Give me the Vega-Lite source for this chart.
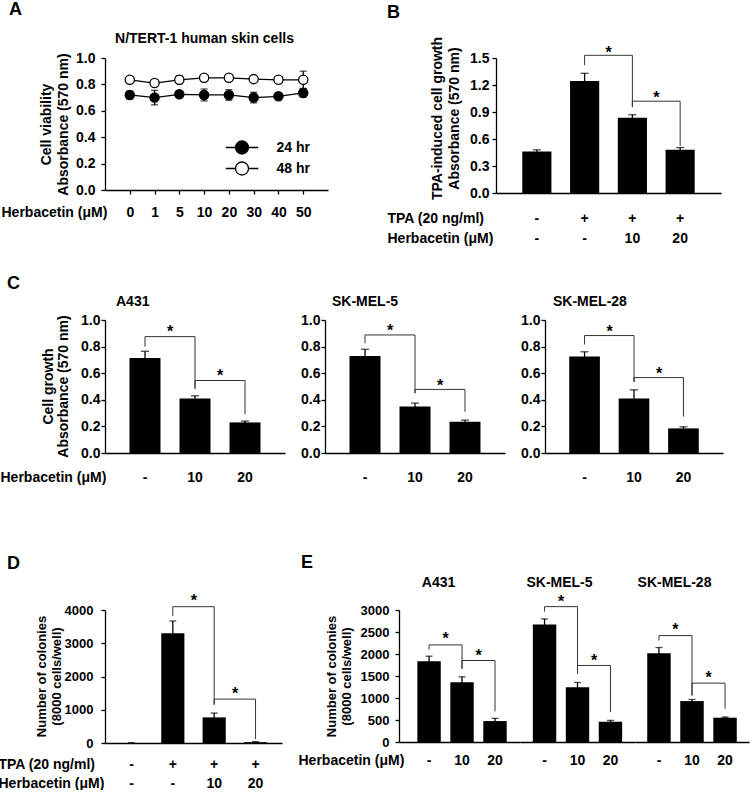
{
  "$schema": "https://vega.github.io/schema/vega-lite/v6.json",
  "padding": {"left": -2, "top": 1, "right": 4, "bottom": 0},
  "config": {
    "font": "Liberation Sans",
    "view": {"stroke": null},
    "axis": {"grid": false, "domainColor": "#000", "domainWidth": 1.3, "tickColor": "#000", "tickWidth": 1.3, "tickSize": 4,
      "labelColor": "#000", "labelFontWeight": "bold", "labelFontSize": 14, "labelAngle": 0,
      "titleColor": "#000", "titleFontWeight": "bold", "titleFontSize": 14},
    "title": {"fontWeight": "bold", "fontSize": 14, "color": "#000"}
  },
  "datasets": {
    "viability": [
      {"conc": "0", "series": "24 hr", "mean": 0.72, "err": 0.03},
      {"conc": "1", "series": "24 hr", "mean": 0.70, "err": 0.055},
      {"conc": "5", "series": "24 hr", "mean": 0.725, "err": 0.01},
      {"conc": "10", "series": "24 hr", "mean": 0.72, "err": 0.045},
      {"conc": "20", "series": "24 hr", "mean": 0.72, "err": 0.04},
      {"conc": "30", "series": "24 hr", "mean": 0.70, "err": 0.04},
      {"conc": "40", "series": "24 hr", "mean": 0.71, "err": 0.015},
      {"conc": "50", "series": "24 hr", "mean": 0.735, "err": 0.03},
      {"conc": "0", "series": "48 hr", "mean": 0.835, "err": 0.02},
      {"conc": "1", "series": "48 hr", "mean": 0.81, "err": 0.02},
      {"conc": "5", "series": "48 hr", "mean": 0.835, "err": 0.03},
      {"conc": "10", "series": "48 hr", "mean": 0.85, "err": 0.02},
      {"conc": "20", "series": "48 hr", "mean": 0.85, "err": 0.01},
      {"conc": "30", "series": "48 hr", "mean": 0.84, "err": 0.015},
      {"conc": "40", "series": "48 hr", "mean": 0.835, "err": 0.01},
      {"conc": "50", "series": "48 hr", "mean": 0.835, "err": 0.065}
    ],
    "tpaGrowth": [
      {"cond": "-|-", "mean": 0.46, "err": 0.02},
      {"cond": "+|-", "mean": 1.245, "err": 0.085},
      {"cond": "+|10", "mean": 0.835, "err": 0.035},
      {"cond": "+|20", "mean": 0.48, "err": 0.025}
    ],
    "tpaGrowthSig": [
      {"from": "+|-", "to": "+|10", "top": 1.53, "yl": 1.42, "yr": 0.955, "sy": 1.59},
      {"from": "+|10", "to": "+|20", "top": 1.02, "yl": 0.955, "yr": 0.525, "sy": 1.09}
    ],
    "growth": [
      {"cell": "A431", "dose": "-", "mean": 0.715, "err": 0.05},
      {"cell": "A431", "dose": "10", "mean": 0.41, "err": 0.02},
      {"cell": "A431", "dose": "20", "mean": 0.23, "err": 0.01},
      {"cell": "SK-MEL-5", "dose": "-", "mean": 0.73, "err": 0.05},
      {"cell": "SK-MEL-5", "dose": "10", "mean": 0.35, "err": 0.025},
      {"cell": "SK-MEL-5", "dose": "20", "mean": 0.235, "err": 0.012},
      {"cell": "SK-MEL-28", "dose": "-", "mean": 0.726, "err": 0.035},
      {"cell": "SK-MEL-28", "dose": "10", "mean": 0.41, "err": 0.065},
      {"cell": "SK-MEL-28", "dose": "20", "mean": 0.185, "err": 0.012}
    ],
    "growthSig": [
      {"cell": "A431", "from": "-", "to": "10", "top": 0.875, "yl": 0.80, "yr": 0.49, "sy": 0.93},
      {"cell": "A431", "from": "10", "to": "20", "top": 0.545, "yl": 0.48, "yr": 0.29, "sy": 0.60},
      {"cell": "SK-MEL-5", "from": "-", "to": "10", "top": 0.8875, "yl": 0.825, "yr": 0.45, "sy": 0.94},
      {"cell": "SK-MEL-5", "from": "10", "to": "20", "top": 0.478, "yl": 0.45, "yr": 0.31, "sy": 0.53},
      {"cell": "SK-MEL-28", "from": "-", "to": "10", "top": 0.883, "yl": 0.816, "yr": 0.535, "sy": 0.935},
      {"cell": "SK-MEL-28", "from": "10", "to": "20", "top": 0.567, "yl": 0.535, "yr": 0.274, "sy": 0.62}
    ],
    "colTPA": [
      {"cond": "-|-", "mean": 0, "err": 0},
      {"cond": "+|-", "mean": 3300, "err": 370},
      {"cond": "+|10", "mean": 770, "err": 130},
      {"cond": "+|20", "mean": 25, "err": 15}
    ],
    "colTPASig": [
      {"from": "+|-", "to": "+|10", "top": 4100, "yl": 3820, "yr": 1150, "sy": 4350},
      {"from": "+|10", "to": "+|20", "top": 1320, "yl": 1150, "yr": 120, "sy": 1560}
    ],
    "colonies": [
      {"cell": "A431", "dose": "-", "mean": 1837, "err": 113},
      {"cell": "A431", "dose": "10", "mean": 1360, "err": 121},
      {"cell": "A431", "dose": "20", "mean": 476, "err": 61},
      {"cell": "SK-MEL-5", "dose": "-", "mean": 2668, "err": 129},
      {"cell": "SK-MEL-5", "dose": "10", "mean": 1247, "err": 106},
      {"cell": "SK-MEL-5", "dose": "20", "mean": 461, "err": 30},
      {"cell": "SK-MEL-28", "dose": "-", "mean": 2018, "err": 129},
      {"cell": "SK-MEL-28", "dose": "10", "mean": 930, "err": 37},
      {"cell": "SK-MEL-28", "dose": "20", "mean": 552, "err": 15}
    ],
    "coloniesSig": [
      {"cell": "A431", "from": "-", "to": "10", "top": 2207, "yl": 2101, "yr": 1663, "sy": 2404},
      {"cell": "A431", "from": "10", "to": "20", "top": 1852, "yl": 1663, "yr": 695, "sy": 2026},
      {"cell": "SK-MEL-5", "from": "-", "to": "10", "top": 3076, "yl": 2963, "yr": 1550, "sy": 3250},
      {"cell": "SK-MEL-5", "from": "10", "to": "20", "top": 1739, "yl": 1550, "yr": 680, "sy": 1905},
      {"cell": "SK-MEL-28", "from": "-", "to": "10", "top": 2419, "yl": 2305, "yr": 1058, "sy": 2608},
      {"cell": "SK-MEL-28", "from": "10", "to": "20", "top": 1338, "yl": 1058, "yr": 756, "sy": 1512}
    ]
  },
  "spacing": 70,
  "vconcat": [
    {
      "spacing": 30,
      "vconcat": [
        {
          "spacing": 59,
          "hconcat": [
            {
              "width": 223, "height": 132,
              "title": {"text": "A", "anchor": "start", "fontSize": 18, "dx": 8, "offset": 12},
              "data": {"name": "viability"},
              "resolve": {"axis": {"x": "independent", "y": "independent"}},
              "layer": [
                {"mark": {"type": "line", "color": "#000", "strokeWidth": 1.3},
                 "encoding": {
                   "x": {"field": "conc", "type": "ordinal", "scale": {"type": "point", "domain": ["0", "1", "5", "10", "20", "30", "40", "50"], "padding": 1.07},
                         "axis": {"orient": "top", "title": "N/TERT-1 human skin cells", "labels": false, "ticks": false, "domain": false, "titleX": 99, "titleY": -20, "titleAlign": "center", "titleBaseline": "middle"}},
                   "y": {"field": "mean", "type": "quantitative", "scale": {"domain": [0, 1], "nice": false},
                         "axis": {"values": [0, 0.2, 0.4, 0.6, 0.8, 1], "format": ".1f", "labelPadding": 6, "title": ["Cell viability", "Absorbance (570 nm)"], "titleX": -66, "titleY": 66, "titleBaseline": "top", "titleAlign": "center", "titleLineHeight": 17}},
                   "detail": {"field": "series"}}},
                {"mark": {"type": "errorbar", "color": "#000", "thickness": 1.3, "size": 7, "ticks": true},
                 "encoding": {
                   "x": {"field": "conc", "type": "ordinal", "axis": null},
                   "y": {"field": "mean", "type": "quantitative", "axis": null},
                   "yError": {"field": "err"}}},
                {"mark": {"type": "point", "filled": true, "shape": "circle", "size": 85, "stroke": "#000", "strokeWidth": 1.3, "opacity": 1},
                 "encoding": {
                   "x": {"field": "conc", "type": "ordinal",
                         "axis": {"orient": "bottom", "title": "Herbacetin (μM)", "titleX": -104, "titleY": 15, "titleAlign": "left", "titleBaseline": "top", "labelPadding": 11, "tickSize": 4}},
                   "y": {"field": "mean", "type": "quantitative", "axis": null},
                   "fill": {"field": "series", "type": "nominal", "scale": {"domain": ["24 hr", "48 hr"], "range": ["#000", "#fff"]},
                            "legend": {"orient": "none", "legendX": 129.5, "legendY": 82, "title": null,
                                       "symbolType": "M-2.5,0L-1,0M1,0L2.5,0M-1,0A1,1,0,1,1,1,0A1,1,0,1,1,-1,0Z",
                                       "symbolSize": 169, "symbolStrokeColor": "#000", "symbolStrokeWidth": 1.3,
                                       "labelFontSize": 14, "labelFontWeight": "bold", "labelColor": "#000", "labelOffset": 27, "rowPadding": 2, "padding": 0}}}}
              ]
            },
            {
              "width": 225, "height": 135,
              "title": {"text": "B", "anchor": "start", "fontSize": 18, "dx": 0, "offset": 14},
              "resolve": {"axis": {"x": "independent", "y": "independent"}},
              "layer": [
                {"data": {"name": "tpaGrowth"}, "mark": {"type": "bar", "color": "#000", "opacity": 1},
                 "encoding": {
                   "x": {"field": "cond", "type": "nominal", "scale": {"domain": ["-|-", "+|-", "+|10", "+|20"], "paddingInner": 0.39, "paddingOuter": 0.55},
                         "axis": {"title": ["TPA (20 ng/ml)", "Herbacetin (μM)"], "titleX": -109, "titleY": 18, "titleAlign": "left", "titleBaseline": "top", "titleLineHeight": 20,
                                  "labelExpr": "split(datum.value, '|')", "labelLineHeight": 20, "labelPadding": 18, "ticks": false, "tickSize": 0}},
                   "y": {"field": "mean", "type": "quantitative", "scale": {"domain": [0, 1.5], "nice": false},
                         "axis": {"values": [0, 0.3, 0.6, 0.9, 1.2, 1.5], "format": ".1f", "labelPadding": 3, "title": ["TPA-induced cell growth", "Absorbance (570 nm)"], "titleX": -66, "titleY": 60, "titleBaseline": "top", "titleAlign": "center", "titleLineHeight": 17}}}},
                {"data": {"name": "tpaGrowth"}, "mark": {"type": "errorbar", "color": "#000", "thickness": 1.3, "size": 8, "ticks": true},
                 "encoding": {"x": {"field": "cond", "type": "nominal", "axis": null}, "y": {"field": "mean", "type": "quantitative", "axis": null}, "yError": {"field": "err"}}},
                {"data": {"name": "tpaGrowthSig"}, "mark": {"type": "rule", "color": "#333", "strokeWidth": 1},
                 "encoding": {"x": {"field": "from", "type": "nominal", "axis": null}, "x2": {"field": "to"}, "y": {"field": "top", "type": "quantitative", "axis": null}}},
                {"data": {"name": "tpaGrowthSig"}, "mark": {"type": "rule", "color": "#333", "strokeWidth": 1},
                 "encoding": {"x": {"field": "from", "type": "nominal", "axis": null}, "y": {"field": "top", "type": "quantitative", "axis": null}, "y2": {"field": "yl"}}},
                {"data": {"name": "tpaGrowthSig"}, "mark": {"type": "rule", "color": "#333", "strokeWidth": 1},
                 "encoding": {"x": {"field": "to", "type": "nominal", "axis": null}, "y": {"field": "top", "type": "quantitative", "axis": null}, "y2": {"field": "yr"}}},
                {"data": {"name": "tpaGrowthSig"}, "mark": {"type": "text", "text": "*", "fontSize": 16, "fontWeight": "bold", "dx": 24, "dy": 3, "baseline": "middle", "color": "#000"},
                 "encoding": {"x": {"field": "from", "type": "nominal", "axis": null}, "y": {"field": "sy", "type": "quantitative", "axis": null}}}
              ]
            }
          ]
        },
        {
          "title": {"text": "C", "anchor": "start", "fontSize": 18, "dx": 7, "offset": 2},
          "spacing": 15,
          "hconcat": [
            {
              "width": 180, "height": 133,
              "title": {"text": "A431", "anchor": "start", "frame": "group", "dx": 11, "offset": 4},
              "resolve": {"axis": {"x": "independent", "y": "independent"}},
              "layer": [
                {"data": {"name": "growth"}, "transform": [{"filter": "datum.cell === 'A431'"}], "mark": {"type": "bar", "color": "#000", "opacity": 1},
                 "encoding": {
                   "x": {"field": "dose", "type": "nominal", "scale": {"domain": ["-", "10", "20"], "paddingInner": 0.38, "paddingOuter": 0.49},
                         "axis": {"title": "Herbacetin (μM)", "titleX": -105, "titleY": 17, "titleAlign": "left", "titleBaseline": "top", "labelPadding": 17, "ticks": false, "tickSize": 0}},
                   "y": {"field": "mean", "type": "quantitative", "scale": {"domain": [0, 1], "nice": false},
                         "axis": {"values": [0, 0.2, 0.4, 0.6, 0.8, 1], "format": ".1f", "labelPadding": 1, "title": ["Cell growth", "Absorbance (570 nm)"], "titleX": -64, "titleY": 66, "titleBaseline": "top", "titleAlign": "center", "titleLineHeight": 15}}}},
                {"data": {"name": "growth"}, "transform": [{"filter": "datum.cell === 'A431'"}], "mark": {"type": "errorbar", "color": "#000", "thickness": 1.3, "size": 8, "ticks": true},
                 "encoding": {"x": {"field": "dose", "type": "nominal", "axis": null}, "y": {"field": "mean", "type": "quantitative", "axis": null}, "yError": {"field": "err"}}},
                {"data": {"name": "growthSig"}, "transform": [{"filter": "datum.cell === 'A431'"}], "mark": {"type": "rule", "color": "#333", "strokeWidth": 1},
                 "encoding": {"x": {"field": "from", "type": "nominal", "axis": null}, "x2": {"field": "to"}, "y": {"field": "top", "type": "quantitative", "axis": null}}},
                {"data": {"name": "growthSig"}, "transform": [{"filter": "datum.cell === 'A431'"}], "mark": {"type": "rule", "color": "#333", "strokeWidth": 1},
                 "encoding": {"x": {"field": "from", "type": "nominal", "axis": null}, "y": {"field": "top", "type": "quantitative", "axis": null}, "y2": {"field": "yl"}}},
                {"data": {"name": "growthSig"}, "transform": [{"filter": "datum.cell === 'A431'"}], "mark": {"type": "rule", "color": "#333", "strokeWidth": 1},
                 "encoding": {"x": {"field": "to", "type": "nominal", "axis": null}, "y": {"field": "top", "type": "quantitative", "axis": null}, "y2": {"field": "yr"}}},
                {"data": {"name": "growthSig"}, "transform": [{"filter": "datum.cell === 'A431'"}], "mark": {"type": "text", "text": "*", "fontSize": 16, "fontWeight": "bold", "dx": 25, "dy": 3, "baseline": "middle", "color": "#000"},
                 "encoding": {"x": {"field": "from", "type": "nominal", "axis": null}, "y": {"field": "sy", "type": "quantitative", "axis": null}}}
              ]
            },
            {
              "width": 180, "height": 133,
              "title": {"text": "SK-MEL-5", "anchor": "start", "frame": "group", "dx": 7, "offset": 4},
              "resolve": {"axis": {"x": "independent", "y": "independent"}},
              "layer": [
                {"data": {"name": "growth"}, "transform": [{"filter": "datum.cell === 'SK-MEL-5'"}], "mark": {"type": "bar", "color": "#000", "opacity": 1},
                 "encoding": {
                   "x": {"field": "dose", "type": "nominal", "scale": {"domain": ["-", "10", "20"], "paddingInner": 0.38, "paddingOuter": 0.49},
                         "axis": {"title": null, "labelPadding": 17, "ticks": false, "tickSize": 0}},
                   "y": {"field": "mean", "type": "quantitative", "scale": {"domain": [0, 1], "nice": false},
                         "axis": {"values": [0, 0.2, 0.4, 0.6, 0.8, 1], "format": ".1f", "labelPadding": 1, "title": null}}}},
                {"data": {"name": "growth"}, "transform": [{"filter": "datum.cell === 'SK-MEL-5'"}], "mark": {"type": "errorbar", "color": "#000", "thickness": 1.3, "size": 8, "ticks": true},
                 "encoding": {"x": {"field": "dose", "type": "nominal", "axis": null}, "y": {"field": "mean", "type": "quantitative", "axis": null}, "yError": {"field": "err"}}},
                {"data": {"name": "growthSig"}, "transform": [{"filter": "datum.cell === 'SK-MEL-5'"}], "mark": {"type": "rule", "color": "#333", "strokeWidth": 1},
                 "encoding": {"x": {"field": "from", "type": "nominal", "axis": null}, "x2": {"field": "to"}, "y": {"field": "top", "type": "quantitative", "axis": null}}},
                {"data": {"name": "growthSig"}, "transform": [{"filter": "datum.cell === 'SK-MEL-5'"}], "mark": {"type": "rule", "color": "#333", "strokeWidth": 1},
                 "encoding": {"x": {"field": "from", "type": "nominal", "axis": null}, "y": {"field": "top", "type": "quantitative", "axis": null}, "y2": {"field": "yl"}}},
                {"data": {"name": "growthSig"}, "transform": [{"filter": "datum.cell === 'SK-MEL-5'"}], "mark": {"type": "rule", "color": "#333", "strokeWidth": 1},
                 "encoding": {"x": {"field": "to", "type": "nominal", "axis": null}, "y": {"field": "top", "type": "quantitative", "axis": null}, "y2": {"field": "yr"}}},
                {"data": {"name": "growthSig"}, "transform": [{"filter": "datum.cell === 'SK-MEL-5'"}], "mark": {"type": "text", "text": "*", "fontSize": 16, "fontWeight": "bold", "dx": 25, "dy": 3, "baseline": "middle", "color": "#000"},
                 "encoding": {"x": {"field": "from", "type": "nominal", "axis": null}, "y": {"field": "sy", "type": "quantitative", "axis": null}}}
              ]
            },
            {
              "width": 178, "height": 133,
              "title": {"text": "SK-MEL-28", "anchor": "start", "frame": "group", "dx": 8, "offset": 4},
              "resolve": {"axis": {"x": "independent", "y": "independent"}},
              "layer": [
                {"data": {"name": "growth"}, "transform": [{"filter": "datum.cell === 'SK-MEL-28'"}], "mark": {"type": "bar", "color": "#000", "opacity": 1},
                 "encoding": {
                   "x": {"field": "dose", "type": "nominal", "scale": {"domain": ["-", "10", "20"], "paddingInner": 0.38, "paddingOuter": 0.49},
                         "axis": {"title": null, "labelPadding": 17, "ticks": false, "tickSize": 0}},
                   "y": {"field": "mean", "type": "quantitative", "scale": {"domain": [0, 1], "nice": false},
                         "axis": {"values": [0, 0.2, 0.4, 0.6, 0.8, 1], "format": ".1f", "labelPadding": 1, "title": null}}}},
                {"data": {"name": "growth"}, "transform": [{"filter": "datum.cell === 'SK-MEL-28'"}], "mark": {"type": "errorbar", "color": "#000", "thickness": 1.3, "size": 8, "ticks": true},
                 "encoding": {"x": {"field": "dose", "type": "nominal", "axis": null}, "y": {"field": "mean", "type": "quantitative", "axis": null}, "yError": {"field": "err"}}},
                {"data": {"name": "growthSig"}, "transform": [{"filter": "datum.cell === 'SK-MEL-28'"}], "mark": {"type": "rule", "color": "#333", "strokeWidth": 1},
                 "encoding": {"x": {"field": "from", "type": "nominal", "axis": null}, "x2": {"field": "to"}, "y": {"field": "top", "type": "quantitative", "axis": null}}},
                {"data": {"name": "growthSig"}, "transform": [{"filter": "datum.cell === 'SK-MEL-28'"}], "mark": {"type": "rule", "color": "#333", "strokeWidth": 1},
                 "encoding": {"x": {"field": "from", "type": "nominal", "axis": null}, "y": {"field": "top", "type": "quantitative", "axis": null}, "y2": {"field": "yl"}}},
                {"data": {"name": "growthSig"}, "transform": [{"filter": "datum.cell === 'SK-MEL-28'"}], "mark": {"type": "rule", "color": "#333", "strokeWidth": 1},
                 "encoding": {"x": {"field": "to", "type": "nominal", "axis": null}, "y": {"field": "top", "type": "quantitative", "axis": null}, "y2": {"field": "yr"}}},
                {"data": {"name": "growthSig"}, "transform": [{"filter": "datum.cell === 'SK-MEL-28'"}], "mark": {"type": "text", "text": "*", "fontSize": 16, "fontWeight": "bold", "dx": 25, "dy": 3, "baseline": "middle", "color": "#000"},
                 "encoding": {"x": {"field": "from", "type": "nominal", "axis": null}, "y": {"field": "sy", "type": "quantitative", "axis": null}}}
              ]
            }
          ]
        }
      ]
    },
    {
      "spacing": 16,
      "hconcat": [
        {
          "hconcat": [
            {
              "width": 177, "height": 133,
              "title": {"text": "D", "anchor": "start", "fontSize": 18, "dx": 9, "offset": 20},
              "resolve": {"axis": {"x": "independent", "y": "independent"}},
              "layer": [
                {"data": {"name": "colTPA"}, "mark": {"type": "bar", "color": "#000", "opacity": 1},
                 "encoding": {
                   "x": {"field": "cond", "type": "nominal", "scale": {"domain": ["-|-", "+|-", "+|10", "+|20"], "paddingInner": 0.44, "paddingOuter": 0.36},
                         "axis": {"title": ["TPA (20 ng/ml)", "Herbacetin (μM)"], "titleX": -107, "titleY": 14, "titleAlign": "left", "titleBaseline": "top", "titleLineHeight": 19,
                                  "labelExpr": "split(datum.value, '|')", "labelLineHeight": 19, "labelPadding": 14, "ticks": false, "tickSize": 0}},
                   "y": {"field": "mean", "type": "quantitative", "scale": {"domain": [0, 4000], "nice": false},
                         "axis": {"values": [0, 1000, 2000, 3000, 4000], "format": "d", "labelFontSize": 13, "labelPadding": 8, "title": ["Number of colonies", "(8000 cells/well)"], "titleFontSize": 13, "titleX": -70, "titleY": 66, "titleBaseline": "top", "titleAlign": "center", "titleLineHeight": 15}}}},
                {"data": {"name": "colTPA"}, "mark": {"type": "errorbar", "color": "#000", "thickness": 1.3, "size": 7, "ticks": true},
                 "encoding": {"x": {"field": "cond", "type": "nominal", "axis": null}, "y": {"field": "mean", "type": "quantitative", "axis": null}, "yError": {"field": "err"}}},
                {"data": {"name": "colTPASig"}, "mark": {"type": "rule", "color": "#333", "strokeWidth": 1},
                 "encoding": {"x": {"field": "from", "type": "nominal", "axis": null}, "x2": {"field": "to"}, "y": {"field": "top", "type": "quantitative", "axis": null}}},
                {"data": {"name": "colTPASig"}, "mark": {"type": "rule", "color": "#333", "strokeWidth": 1},
                 "encoding": {"x": {"field": "from", "type": "nominal", "axis": null}, "y": {"field": "top", "type": "quantitative", "axis": null}, "y2": {"field": "yl"}}},
                {"data": {"name": "colTPASig"}, "mark": {"type": "rule", "color": "#333", "strokeWidth": 1},
                 "encoding": {"x": {"field": "to", "type": "nominal", "axis": null}, "y": {"field": "top", "type": "quantitative", "axis": null}, "y2": {"field": "yr"}}},
                {"data": {"name": "colTPASig"}, "mark": {"type": "text", "text": "*", "fontSize": 16, "fontWeight": "bold", "dx": 21, "dy": 3, "baseline": "middle", "color": "#000"},
                 "encoding": {"x": {"field": "from", "type": "nominal", "axis": null}, "y": {"field": "sy", "type": "quantitative", "axis": null}}}
              ]
            }
          ]
        },
        {
          "spacing": 0,
          "hconcat": [
            {
              "width": 121, "height": 132,
              "title": {"text": "E", "anchor": "start", "fontSize": 18, "dx": 3, "offset": 3},
              "resolve": {"axis": {"x": "independent", "y": "independent"}},
              "layer": [
                {"data": {"name": "colonies"}, "transform": [{"filter": "datum.cell === 'A431'"}], "mark": {"type": "bar", "color": "#000", "opacity": 1},
                 "encoding": {
                   "x": {"field": "dose", "type": "nominal", "scale": {"domain": ["-", "10", "20"], "paddingInner": 0.29, "paddingOuter": 0.48, "align": 0.58},
                         "axis": {"title": "Herbacetin (μM)", "titleX": -101, "titleY": 11, "titleAlign": "left", "titleBaseline": "top", "labelPadding": 11, "ticks": false, "tickSize": 0}},
                   "y": {"field": "mean", "type": "quantitative", "scale": {"domain": [0, 3000], "nice": false},
                         "axis": {"values": [0, 500, 1000, 1500, 2000, 2500, 3000], "format": "d", "labelFontSize": 13, "labelPadding": 6, "title": ["Number of colonies", "(8000 cells/well)"], "titleFontSize": 13, "titleX": -74, "titleY": 66, "titleBaseline": "top", "titleAlign": "center", "titleLineHeight": 15}}}},
                {"data": {"name": "colonies"}, "transform": [{"filter": "datum.cell === 'A431'"}], "mark": {"type": "errorbar", "color": "#000", "thickness": 1.3, "size": 7, "ticks": true},
                 "encoding": {"x": {"field": "dose", "type": "nominal", "axis": null}, "y": {"field": "mean", "type": "quantitative", "axis": null}, "yError": {"field": "err"}}},
                {"data": {"name": "coloniesSig"}, "transform": [{"filter": "datum.cell === 'A431'"}], "mark": {"type": "rule", "color": "#333", "strokeWidth": 1},
                 "encoding": {"x": {"field": "from", "type": "nominal", "axis": null}, "x2": {"field": "to"}, "y": {"field": "top", "type": "quantitative", "axis": null}}},
                {"data": {"name": "coloniesSig"}, "transform": [{"filter": "datum.cell === 'A431'"}], "mark": {"type": "rule", "color": "#333", "strokeWidth": 1},
                 "encoding": {"x": {"field": "from", "type": "nominal", "axis": null}, "y": {"field": "top", "type": "quantitative", "axis": null}, "y2": {"field": "yl"}}},
                {"data": {"name": "coloniesSig"}, "transform": [{"filter": "datum.cell === 'A431'"}], "mark": {"type": "rule", "color": "#333", "strokeWidth": 1},
                 "encoding": {"x": {"field": "to", "type": "nominal", "axis": null}, "y": {"field": "top", "type": "quantitative", "axis": null}, "y2": {"field": "yr"}}},
                {"data": {"name": "coloniesSig"}, "transform": [{"filter": "datum.cell === 'A431'"}], "mark": {"type": "text", "text": "*", "fontSize": 16, "fontWeight": "bold", "dx": 16.5, "dy": 3, "baseline": "middle", "color": "#000"},
                 "encoding": {"x": {"field": "from", "type": "nominal", "axis": {"orient": "top", "title": "A431", "labels": false, "ticks": false, "domain": false, "titleX": 39, "titleY": -28, "titleAlign": "center", "titleBaseline": "middle"}}, "y": {"field": "sy", "type": "quantitative", "axis": null}}}
              ]
            },
            {
              "width": 115, "height": 132,
              "resolve": {"axis": {"x": "independent", "y": "independent"}},
              "layer": [
                {"data": {"name": "colonies"}, "transform": [{"filter": "datum.cell === 'SK-MEL-5'"}], "mark": {"type": "bar", "color": "#000", "opacity": 1},
                 "encoding": {
                   "x": {"field": "dose", "type": "nominal", "scale": {"domain": ["-", "10", "20"], "paddingInner": 0.29, "paddingOuter": 0.39, "align": 0.5},
                         "axis": {"title": null, "labelPadding": 11, "ticks": false, "tickSize": 0}},
                   "y": {"field": "mean", "type": "quantitative", "scale": {"domain": [0, 3000], "nice": false}, "axis": null}}},
                {"data": {"name": "colonies"}, "transform": [{"filter": "datum.cell === 'SK-MEL-5'"}], "mark": {"type": "errorbar", "color": "#000", "thickness": 1.3, "size": 7, "ticks": true},
                 "encoding": {"x": {"field": "dose", "type": "nominal", "axis": null}, "y": {"field": "mean", "type": "quantitative", "axis": null}, "yError": {"field": "err"}}},
                {"data": {"name": "coloniesSig"}, "transform": [{"filter": "datum.cell === 'SK-MEL-5'"}], "mark": {"type": "rule", "color": "#333", "strokeWidth": 1},
                 "encoding": {"x": {"field": "from", "type": "nominal", "axis": null}, "x2": {"field": "to"}, "y": {"field": "top", "type": "quantitative", "axis": null}}},
                {"data": {"name": "coloniesSig"}, "transform": [{"filter": "datum.cell === 'SK-MEL-5'"}], "mark": {"type": "rule", "color": "#333", "strokeWidth": 1},
                 "encoding": {"x": {"field": "from", "type": "nominal", "axis": null}, "y": {"field": "top", "type": "quantitative", "axis": null}, "y2": {"field": "yl"}}},
                {"data": {"name": "coloniesSig"}, "transform": [{"filter": "datum.cell === 'SK-MEL-5'"}], "mark": {"type": "rule", "color": "#333", "strokeWidth": 1},
                 "encoding": {"x": {"field": "to", "type": "nominal", "axis": null}, "y": {"field": "top", "type": "quantitative", "axis": null}, "y2": {"field": "yr"}}},
                {"data": {"name": "coloniesSig"}, "transform": [{"filter": "datum.cell === 'SK-MEL-5'"}], "mark": {"type": "text", "text": "*", "fontSize": 16, "fontWeight": "bold", "dx": 16.5, "dy": 3, "baseline": "middle", "color": "#000"},
                 "encoding": {"x": {"field": "from", "type": "nominal", "axis": {"orient": "top", "title": "SK-MEL-5", "labels": false, "ticks": false, "domain": false, "titleX": 39, "titleY": -28, "titleAlign": "center", "titleBaseline": "middle"}}, "y": {"field": "sy", "type": "quantitative", "axis": null}}}
              ]
            },
            {
              "width": 114, "height": 132,
              "resolve": {"axis": {"x": "independent", "y": "independent"}},
              "layer": [
                {"data": {"name": "colonies"}, "transform": [{"filter": "datum.cell === 'SK-MEL-28'"}], "mark": {"type": "bar", "color": "#000", "opacity": 1},
                 "encoding": {
                   "x": {"field": "dose", "type": "nominal", "scale": {"domain": ["-", "10", "20"], "paddingInner": 0.29, "paddingOuter": 0.37, "align": 0.5},
                         "axis": {"title": null, "labelPadding": 11, "ticks": false, "tickSize": 0}},
                   "y": {"field": "mean", "type": "quantitative", "scale": {"domain": [0, 3000], "nice": false}, "axis": null}}},
                {"data": {"name": "colonies"}, "transform": [{"filter": "datum.cell === 'SK-MEL-28'"}], "mark": {"type": "errorbar", "color": "#000", "thickness": 1.3, "size": 7, "ticks": true},
                 "encoding": {"x": {"field": "dose", "type": "nominal", "axis": null}, "y": {"field": "mean", "type": "quantitative", "axis": null}, "yError": {"field": "err"}}},
                {"data": {"name": "coloniesSig"}, "transform": [{"filter": "datum.cell === 'SK-MEL-28'"}], "mark": {"type": "rule", "color": "#333", "strokeWidth": 1},
                 "encoding": {"x": {"field": "from", "type": "nominal", "axis": null}, "x2": {"field": "to"}, "y": {"field": "top", "type": "quantitative", "axis": null}}},
                {"data": {"name": "coloniesSig"}, "transform": [{"filter": "datum.cell === 'SK-MEL-28'"}], "mark": {"type": "rule", "color": "#333", "strokeWidth": 1},
                 "encoding": {"x": {"field": "from", "type": "nominal", "axis": null}, "y": {"field": "top", "type": "quantitative", "axis": null}, "y2": {"field": "yl"}}},
                {"data": {"name": "coloniesSig"}, "transform": [{"filter": "datum.cell === 'SK-MEL-28'"}], "mark": {"type": "rule", "color": "#333", "strokeWidth": 1},
                 "encoding": {"x": {"field": "to", "type": "nominal", "axis": null}, "y": {"field": "top", "type": "quantitative", "axis": null}, "y2": {"field": "yr"}}},
                {"data": {"name": "coloniesSig"}, "transform": [{"filter": "datum.cell === 'SK-MEL-28'"}], "mark": {"type": "text", "text": "*", "fontSize": 16, "fontWeight": "bold", "dx": 16.5, "dy": 3, "baseline": "middle", "color": "#000"},
                 "encoding": {"x": {"field": "from", "type": "nominal", "axis": {"orient": "top", "title": "SK-MEL-28", "labels": false, "ticks": false, "domain": false, "titleX": 39, "titleY": -28, "titleAlign": "center", "titleBaseline": "middle"}}, "y": {"field": "sy", "type": "quantitative", "axis": null}}}
              ]
            }
          ]
        }
      ]
    }
  ]
}
